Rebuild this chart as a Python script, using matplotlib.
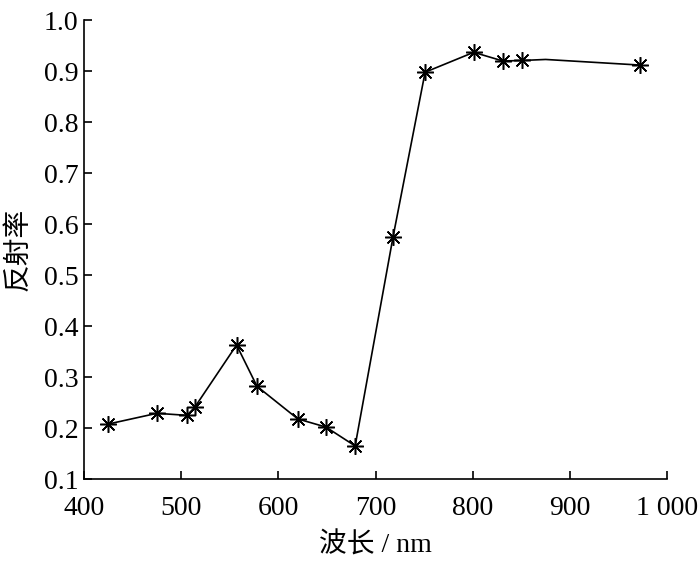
import matplotlib
matplotlib.use("Agg")
import matplotlib.pyplot as plt
from matplotlib.ticker import FuncFormatter

# wavelength (nm) and reflectance
wavelength = [425, 475, 506, 514, 557, 578, 620, 649, 679, 718, 751, 801, 831, 851, 875, 972]
reflectance = [0.208, 0.229, 0.225, 0.241, 0.363, 0.282, 0.218, 0.202, 0.165,
               0.575, 0.898, 0.937, 0.920, 0.921, 0.923, 0.912]
marked = [0, 1, 2, 3, 4, 5, 6, 7, 8, 9, 10, 11, 12, 13, 15]

x_ticks = [400, 500, 600, 700, 800, 900, 1000]
y_ticks = [0.1, 0.2, 0.3, 0.4, 0.5, 0.6, 0.7, 0.8, 0.9, 1.0]

plt.rcParams['font.family'] = ['Liberation Serif', 'Noto Sans CJK SC', 'DejaVu Sans']

fig = plt.figure(figsize=(7, 5.61), dpi=100)
ax = fig.add_axes([0.12, 0.146, 0.833, 0.818])

ax.plot(wavelength, reflectance, color="k", lw=1.2,
        marker=(8, 2, 0), markersize=12, markeredgewidth=1.1,
        markevery=marked)

ax.set_xlim(400, 1000)
ax.set_ylim(0.1, 1.0)
ax.set_xticks(x_ticks)
ax.set_yticks(y_ticks)
ax.xaxis.set_major_formatter(FuncFormatter(
    lambda v, p: "{:,}".format(int(v)).replace(",", " ")))
ax.yaxis.set_major_formatter(FuncFormatter(lambda v, p: "%.1f" % v))

ax.spines['top'].set_visible(False)
ax.spines['right'].set_visible(False)
for s in ('left', 'bottom'):
    ax.spines[s].set_linewidth(1.2)
ax.tick_params(direction="in", length=6, width=1.2, labelsize=20)
ax.tick_params(axis="y", pad=4)
ax.tick_params(axis="x", pad=12)

ax.set_xlabel("波长 / nm", fontsize=20, labelpad=8,
              family=['Liberation Serif', 'Noto Sans CJK SC'])
ax.set_ylabel("反射率", fontsize=20, labelpad=8,
              family=['Noto Sans CJK SC'])

fig.savefig("out.png", dpi=100)
